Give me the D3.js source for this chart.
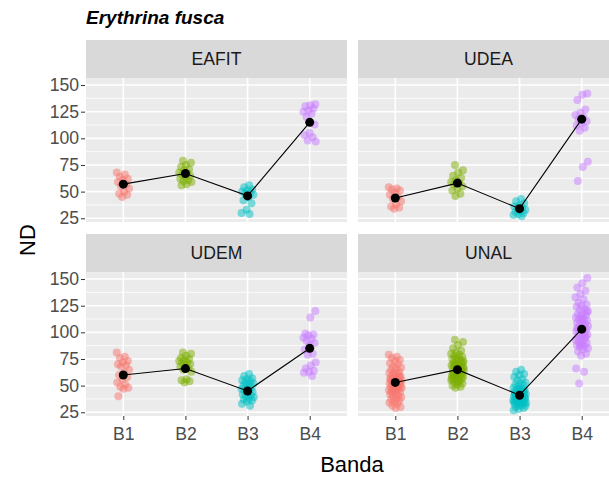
<!DOCTYPE html>
<html>
<head>
<meta charset="utf-8">
<script src="https://cdn.jsdelivr.net/npm/d3@7"></script>
<style>
  body { margin: 0; background: #fff; }
  svg text { font-family: "Liberation Sans", Arial, sans-serif; }
</style>
</head>
<body>
<svg id="chart" width="609" height="482"></svg>
<script>
// data
const bands = ["B1", "B2", "B3", "B4"];
const sites = ["EAFIT", "UDEA", "UDEM", "UNAL"];
const bandColors = ["#F8766D", "#7CAE00", "#00BFC4", "#C77CFF"];
const yTicks = [25, 50, 75, 100, 125, 150];

const eafitB1 = [68, 66, 64, 62, 61, 59, 57, 55, 53, 50, 48, 47, 45];
const eafitB2 = [79, 77, 75, 73, 71, 70, 68, 67, 66, 65, 64, 62, 61, 60, 59, 57, 56];
const eafitB3 = [56, 54, 52, 51, 50, 49, 48, 47, 45, 42, 39, 33, 30, 29];
const eafitB4 = [132, 131, 130, 128, 126, 125, 123, 120, 113, 105, 103, 101, 98, 97];

const udeaB1 = [54, 53, 52, 51, 49, 47, 45, 43, 41, 38, 36, 35, 34];
const udeaB2 = [75, 70, 68, 65, 63, 61, 59, 58, 57, 55, 53, 51, 48, 46];
const udeaB3 = [43, 41, 39, 37, 36, 35, 34, 33, 32, 31, 30, 29, 28, 27];
const udeaB4 = [142, 141, 136, 127, 124, 122, 120, 118, 116, 114, 112, 110, 107, 78, 73, 60];

const udemB1 = [81, 77, 76, 73, 72, 70, 69, 68, 65, 62, 60, 58, 56, 53, 51, 49, 48, 47, 40];
const udemB2 = [81, 80, 78, 76, 75, 74, 73, 72, 71, 70, 69, 68, 66, 65, 63, 56, 55, 54, 53];
const udemB3 = [61, 59, 57, 56, 55, 54, 53, 52, 51, 50, 49, 48, 47, 46, 45, 44, 43, 42, 41, 40, 39, 38, 37, 36, 35, 33, 31];
const udemB4 = [120, 114, 99, 98, 97, 95, 94, 92, 90, 88, 84, 80, 79, 72, 69, 66, 64, 63, 62, 59];

const unalB1 = [79, 77, 76, 74, 73, 71, 70, 68, 67, 66, 65, 63, 62, 62, 61, 60, 59, 58, 57, 57,
  56, 55, 55, 54, 53, 53, 52, 51, 51, 50, 49, 49, 48, 47, 46, 46, 45, 44, 43, 42,
  41, 40, 39, 38, 37, 36, 35, 34, 33, 31, 30, 29, 56, 54, 50, 48, 47, 44, 58, 52];
const unalB2 = [93, 91, 88, 85, 83, 81, 80, 79, 78, 77, 76, 75, 74, 74, 73, 72, 71, 71, 70, 69,
  68, 68, 67, 66, 66, 65, 64, 64, 63, 62, 62, 61, 60, 60, 59, 58, 58, 57, 56, 56,
  55, 54, 53, 52, 51, 50, 49, 48, 67, 63, 61, 59, 70, 57, 65, 69, 72, 54, 62, 66];
const unalB3 = [65, 63, 61, 60, 58, 56, 55, 53, 52, 51, 50, 49, 48, 47, 46, 46, 45, 44, 44, 43,
  42, 42, 41, 41, 40, 40, 39, 39, 38, 38, 37, 37, 36, 36, 35, 35, 34, 34, 33, 33,
  32, 31, 31, 30, 29, 28, 27, 43, 40, 38, 36, 42, 45, 39, 34, 37, 41, 44, 47, 35];
const unalB4 = [151, 146, 142, 139, 136, 133, 131, 128, 126, 125, 124, 122, 121, 120, 118, 117, 116, 115, 114, 113,
  112, 111, 110, 109, 108, 107, 106, 105, 104, 103, 102, 101, 100, 99, 98, 97, 96, 95, 94, 93,
  92, 91, 90, 89, 88, 87, 86, 85, 84, 82, 80, 78, 66, 63, 52, 119, 112, 104, 96, 88];

// mean per band (black dots)
const eafitMeans = [57, 67, 46, 115];
const udeaMeans = [44, 58, 34, 118];
const udemMeans = [60, 66, 45, 85];
const unalMeans = [53, 65, 41, 103];

const panels = [
  { name: "EAFIT", groups: [eafitB1, eafitB2, eafitB3, eafitB4], means: eafitMeans },
  { name: "UDEA", groups: [udeaB1, udeaB2, udeaB3, udeaB4], means: udeaMeans },
  { name: "UDEM", groups: [udemB1, udemB2, udemB3, udemB4], means: udemMeans },
  { name: "UNAL", groups: [unalB1, unalB2, unalB3, unalB4], means: unalMeans }
];

const svg = d3.select("#chart");
const panelW = 261, panelH = 144, stripH = 38;
const colX = [86, 358], rowY = [78, 272];

const x = d3.scaleBand().domain(bands).range([0, panelW]).paddingInner(0).paddingOuter(0.1);
// ggplot discrete expand: centers at 0.6 / 4.2 ...
const xc = d3.scalePoint().domain(bands).range([panelW * 0.6 / 4.2, panelW * 3.6 / 4.2]);
const y = d3.scaleLinear().domain([21.5, 156.6]).range([panelH, 0]);
const color = d3.scaleOrdinal().domain(bands).range(bandColors);

svg.append("text")
  .attr("x", 86).attr("y", 24)
  .attr("font-size", 19).attr("font-weight", "bold").attr("font-style", "italic")
  .attr("fill", "#000")
  .text("Erythrina fusca");

panels.forEach((p, k) => {
  const col = k % 2, row = Math.floor(k / 2);
  const g = svg.append("g").attr("transform", `translate(${colX[col]},${rowY[row]})`);

  // strip
  g.append("rect").attr("x", 0).attr("y", -stripH).attr("width", panelW).attr("height", stripH)
    .attr("fill", "#D9D9D9");
  g.append("text").attr("x", panelW / 2).attr("y", -stripH / 2 + 6)
    .attr("text-anchor", "middle").attr("font-size", 17.6).attr("fill", "#1A1A1A")
    .text(p.name);

  // panel background + grid
  g.append("rect").attr("width", panelW).attr("height", panelH).attr("fill", "#EBEBEB");
  const minor = d3.range(yTicks.length - 1).map(i => (yTicks[i] + yTicks[i + 1]) / 2);
  g.selectAll(".minor").data(minor).join("line")
    .attr("x1", 0).attr("x2", panelW)
    .attr("y1", d => y(d)).attr("y2", d => y(d))
    .attr("stroke", "#fff").attr("stroke-width", 0.8);
  g.selectAll(".majorY").data(yTicks).join("line")
    .attr("x1", 0).attr("x2", panelW)
    .attr("y1", d => y(d)).attr("y2", d => y(d))
    .attr("stroke", "#fff").attr("stroke-width", 1.6);
  g.selectAll(".majorX").data(bands).join("line")
    .attr("x1", d => xc(d)).attr("x2", d => xc(d))
    .attr("y1", 0).attr("y2", panelH)
    .attr("stroke", "#fff").attr("stroke-width", 1.6);

  // jittered points
  p.groups.forEach((vals, bi) => {
    const b = bands[bi];
    g.append("g").selectAll("circle").data(vals).join("circle")
      .attr("cx", (d, i) => xc(b) + (((i * 0.618034 + bi * 0.31) % 1) - 0.5) * 13)
      .attr("cy", d => y(d))
      .attr("r", 4)
      .attr("fill", color(b))
      .attr("fill-opacity", 0.5);
  });

  // mean line + dots
  const line = d3.line().x((d, i) => xc(bands[i])).y(d => y(d));
  g.append("path").datum(p.means).attr("d", line)
    .attr("fill", "none").attr("stroke", "#000").attr("stroke-width", 1.1);
  g.selectAll(".mean").data(p.means).join("circle")
    .attr("cx", (d, i) => xc(bands[i])).attr("cy", d => y(d))
    .attr("r", 4.5).attr("fill", "#000");

  // y axis on left column
  if (col === 0) {
    const ya = g.append("g").call(d3.axisLeft(y).tickValues(yTicks).tickSize(4).tickPadding(3));
    ya.select(".domain").remove();
    ya.selectAll("line").attr("stroke", "#333").attr("transform", "translate(-1,0)");
    ya.selectAll("text").attr("font-size", 17.6).attr("fill", "#4D4D4D")
      .attr("font-family", "Liberation Sans, Arial, sans-serif");
  }
  // x axis on bottom row
  if (row === 1) {
    const xa = g.append("g").attr("transform", `translate(0,${panelH})`)
      .call(d3.axisBottom(xc).tickSize(4).tickPadding(8));
    xa.select(".domain").remove();
    xa.selectAll("line").attr("stroke", "#333");
    xa.selectAll("text").attr("font-size", 17.6).attr("fill", "#4D4D4D")
      .attr("font-family", "Liberation Sans, Arial, sans-serif");
  }
});

svg.append("text").attr("x", 352).attr("y", 472)
  .attr("text-anchor", "middle").attr("font-size", 22).attr("fill", "#000")
  .text("Banda");
svg.append("text").attr("transform", "translate(35,240) rotate(-90)")
  .attr("text-anchor", "middle").attr("font-size", 22).attr("fill", "#000")
  .text("ND");
</script>
</body>
</html>
